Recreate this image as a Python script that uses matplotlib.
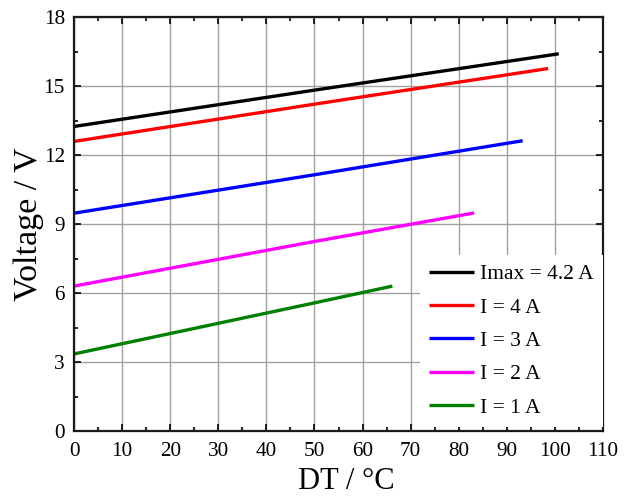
import matplotlib
matplotlib.use("Agg")
import matplotlib.pyplot as plt
from matplotlib.ticker import MultipleLocator

labels = ["Imax = 4.2 A", "I = 4 A", "I = 3 A", "I = 2 A", "I = 1 A"]
colors = ["#000000", "#ff0000", "#0000ff", "#ff00ff", "#008000"]
x_imax = [0, 50, 100.8]
v_imax = [13.24, 14.82, 16.40]
x_4 = [0, 50, 98.6]
v_4 = [12.59, 14.21, 15.76]
x_3 = [0, 50, 93.3]
v_3 = [9.47, 11.14, 12.62]
x_2 = [0, 50, 83.2]
v_2 = [6.30, 8.24, 9.48]
x_1 = [0, 50, 66.2]
v_1 = [3.35, 5.57, 6.30]
xs = [x_imax, x_4, x_3, x_2, x_1]
vs = [v_imax, v_4, v_3, v_2, v_1]

plt.rcParams['font.family'] = ['Liberation Serif', 'DejaVu Serif']
plt.rcParams['mathtext.fontset'] = 'stix'

fig = plt.figure(figsize=(6.4, 4.96), dpi=100)
ax = fig.add_axes([74/640, 1-431/496, (603-74)/640, (431-17)/496])

for x, v, c, l in zip(xs, vs, colors, labels):
    ax.plot(x, v, color=c, lw=2.4, label=l, solid_capstyle='butt')

ax.set_xlim(0, 110)
ax.set_ylim(0, 18)
ax.xaxis.set_major_locator(MultipleLocator(10))
ax.xaxis.set_minor_locator(MultipleLocator(5))
ax.yaxis.set_major_locator(MultipleLocator(3))
ax.yaxis.set_minor_locator(MultipleLocator(1.5))
ax.grid(True, which='major', color='#a0a0a0', lw=1)
ax.set_axisbelow(True)
ax.tick_params(which='both', direction='in', top=True, right=True, labelsize=15.3, width=1.2, colors='black')
ax.tick_params(which='major', length=5)
ax.tick_params(which='minor', length=3)
ax.tick_params(axis='x', which='major', pad=8)
ax.tick_params(axis='y', which='major', pad=6.5)
for s in ax.spines.values():
    s.set_linewidth(1.6)
    s.set_color('#1a1a1a')

ax.set_xlabel("DT / °C", fontsize=22, labelpad=5)
ax.xaxis.set_label_coords(0.515, -0.086, transform=ax.transAxes)
ax.xaxis.label.set_va('top')
ax.set_ylabel("Voltage / V", fontsize=24.5, labelpad=0)

leg = ax.legend(loc='upper right', bbox_to_anchor=(1.0, 0.425), fontsize=15.5,
                frameon=True, fancybox=False, edgecolor='none', facecolor='white',
                framealpha=1, handlelength=2.1, handletextpad=0.28, labelspacing=0.62,
                borderpad=0.42, borderaxespad=0)

fig.savefig("out.png", dpi=100)
